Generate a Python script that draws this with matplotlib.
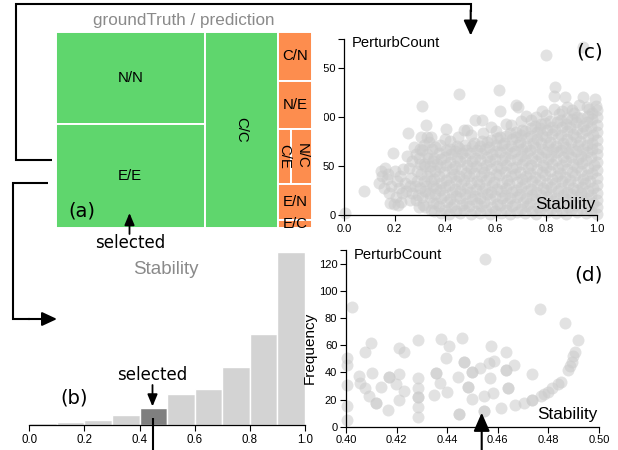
import matplotlib
matplotlib.use("Agg")
import matplotlib.pyplot as plt
from matplotlib.patches import Rectangle

plt.rcParams['font.family'] = ['Liberation Sans', 'DejaVu Sans']

W, H = 618, 450

# ---------------- data ----------------
# (a) treemap: groundTruth / prediction
tm_labels = ['N/N', 'E/E', 'C/C', 'C/N', 'N/E', 'C/E', 'N/C', 'E/N', 'E/C']
tm_values = [1374, 1537, 1435, 168, 164, 74, 114, 126, 25]
tm_correct = [True, True, True, False, False, False, False, False, False]

# (b) histogram of Stability
hist_edges = [0.0, 0.1, 0.2, 0.3, 0.4, 0.5, 0.6, 0.7, 0.8, 0.9, 1.0]
hist_counts = [12, 18, 30, 62, 100, 184, 218, 346, 548, 1036]
hist_selected_bin = 4
hist_ticks = [0.0, 0.2, 0.4, 0.6, 0.8, 1.0]

# (c) scatter Stability vs PerturbCount (all instances)
c_stability = [
    0.356, 0.363, 0.358, 0.365, 0.354, 0.361, 0.366, 0.357,
    0.382, 0.375, 0.384, 0.379, 0.383, 0.374, 0.380, 0.385, 0.377,
    0.399, 0.406, 0.397, 0.400, 0.404, 0.395, 0.402, 0.398, 0.405,
    0.416, 0.423, 0.418, 0.425, 0.414, 0.421, 0.426, 0.417, 0.422, 0.419,
    0.442, 0.435, 0.444, 0.439, 0.443, 0.434, 0.440, 0.445, 0.437, 0.446,
    0.459, 0.466, 0.457, 0.460, 0.464, 0.455, 0.462, 0.458, 0.465, 0.454,
    0.476, 0.483, 0.478, 0.485, 0.474, 0.481, 0.486, 0.477, 0.482, 0.479,
    0.502, 0.495, 0.504, 0.499, 0.503, 0.494, 0.500, 0.505, 0.497, 0.506,
    0.519, 0.526, 0.517, 0.520, 0.524, 0.515, 0.522, 0.518, 0.525, 0.514,
    0.536, 0.543, 0.538, 0.545, 0.534, 0.541, 0.546, 0.537, 0.542, 0.539, 0.544,
    0.562, 0.555, 0.564, 0.559, 0.563, 0.554, 0.560, 0.565, 0.557, 0.566,
    0.579, 0.586, 0.577, 0.580, 0.584, 0.575, 0.582, 0.578, 0.585, 0.574, 0.581,
    0.596, 0.603, 0.598, 0.605, 0.594, 0.601, 0.606, 0.597, 0.602, 0.599, 0.604,
    0.622, 0.615, 0.624, 0.619, 0.623, 0.614, 0.620, 0.625, 0.617, 0.626, 0.618,
    0.639, 0.646, 0.637, 0.640, 0.644, 0.635, 0.642, 0.638, 0.645, 0.634, 0.641,
    0.656, 0.663, 0.658, 0.665, 0.654, 0.661, 0.666, 0.657, 0.662, 0.659, 0.664, 0.655,
    0.682, 0.675, 0.684, 0.679, 0.683, 0.674, 0.680, 0.685, 0.677, 0.686, 0.678, 0.681,
    0.699, 0.706, 0.697, 0.700, 0.704, 0.695, 0.702, 0.698, 0.705, 0.694, 0.701, 0.703,
    0.716, 0.723, 0.718, 0.725, 0.714, 0.721, 0.726, 0.717, 0.722, 0.719, 0.724, 0.715,
    0.742, 0.735, 0.744, 0.739, 0.743, 0.734, 0.740, 0.745, 0.737, 0.746, 0.738, 0.741,
    0.759, 0.766, 0.757, 0.760, 0.764, 0.755, 0.762, 0.758, 0.765, 0.754, 0.761, 0.763, 0.756,
    0.776, 0.783, 0.778, 0.785, 0.774, 0.781, 0.786, 0.777, 0.782, 0.779, 0.784, 0.775, 0.780,
    0.802, 0.795, 0.804, 0.799, 0.803, 0.794, 0.800, 0.805, 0.797, 0.806, 0.798, 0.801, 0.796,
    0.819, 0.826, 0.817, 0.820, 0.824, 0.815, 0.822, 0.818, 0.825, 0.814, 0.821, 0.823, 0.816,
    0.836, 0.843, 0.838, 0.845, 0.834, 0.841, 0.846, 0.837, 0.842, 0.839, 0.844, 0.835, 0.840,
    0.862, 0.855, 0.864, 0.859, 0.863, 0.854, 0.860, 0.865, 0.857, 0.866, 0.858, 0.861, 0.856,
    0.879, 0.886, 0.877, 0.880, 0.884, 0.875, 0.882, 0.878, 0.885, 0.874, 0.881, 0.883, 0.876, 0.880,
    0.896, 0.903, 0.898, 0.905, 0.894, 0.901, 0.906, 0.897, 0.902, 0.899, 0.904, 0.895, 0.900,
    0.922, 0.915, 0.924, 0.919, 0.923, 0.914, 0.920, 0.925, 0.917, 0.926, 0.918, 0.921, 0.916, 0.922,
    0.939, 0.946, 0.937, 0.940, 0.944, 0.935, 0.942, 0.938, 0.945, 0.934, 0.941, 0.943, 0.936,
    0.956, 0.963, 0.958, 0.965, 0.954, 0.961, 0.966, 0.957, 0.962, 0.959, 0.964, 0.955, 0.960, 0.963,
    0.976, 0.983, 0.978, 0.985, 0.974, 0.981, 0.988, 0.977, 0.982, 0.979, 0.984, 0.975, 0.980,
    1.0, 1.0, 1.0, 1.0, 1.0, 1.0, 1.0, 1.0, 1.0, 1.0, 1.0, 1.0, 1.0, 1.0,
]
c_perturb = [
    4, 12, 21, 28, 37, 45, 52, 58,
    2, 9, 17, 26, 33, 40, 49, 57, 63,
    5, 13, 20, 29, 36, 44, 51, 59, 66,
    1, 8, 16, 24, 31, 39, 47, 54, 62, 68,
    4, 11, 19, 27, 35, 42, 50, 58, 65, 71,
    2, 10, 17, 25, 32, 40, 47, 55, 63, 69,
    5, 12, 21, 28, 36, 43, 51, 58, 66, 72,
    1, 9, 16, 24, 33, 40, 48, 55, 63, 71,
    4, 12, 19, 27, 35, 43, 50, 58, 66, 74,
    2, 9, 17, 25, 32, 40, 48, 56, 63, 71, 76,
    5, 13, 21, 28, 36, 44, 51, 59, 67, 75,
    1, 8, 16, 24, 31, 39, 47, 55, 62, 70, 77,
    4, 11, 19, 27, 34, 42, 50, 57, 65, 72, 79,
    2, 10, 17, 25, 33, 41, 48, 56, 64, 72, 80,
    5, 12, 20, 28, 36, 44, 51, 59, 67, 74, 81,
    1, 9, 17, 24, 32, 40, 48, 56, 63, 71, 78, 84,
    3, 11, 18, 26, 34, 42, 49, 57, 65, 72, 80, 85,
    6, 13, 21, 29, 37, 44, 52, 60, 67, 75, 82, 87,
    2, 9, 17, 25, 33, 40, 48, 56, 63, 71, 79, 86,
    4, 12, 20, 27, 35, 43, 51, 58, 66, 74, 81, 89,
    1, 8, 16, 24, 31, 39, 47, 55, 62, 70, 78, 85, 91,
    5, 13, 20, 28, 36, 44, 51, 59, 67, 74, 82, 89, 93,
    3, 10, 18, 26, 33, 41, 49, 57, 64, 72, 80, 87, 94,
    6, 14, 21, 29, 37, 45, 52, 60, 68, 75, 83, 90, 96,
    2, 9, 17, 25, 33, 40, 48, 56, 64, 71, 79, 87, 95,
    4, 12, 20, 28, 35, 43, 51, 59, 66, 74, 82, 90, 97,
    1, 8, 16, 24, 32, 39, 47, 55, 63, 70, 78, 86, 93, 99,
    5, 13, 21, 28, 36, 44, 52, 59, 67, 75, 83, 90, 98,
    3, 10, 18, 26, 34, 41, 49, 57, 65, 72, 80, 88, 95, 100,
    6, 14, 22, 29, 37, 45, 53, 60, 68, 76, 84, 91, 99,
    2, 9, 17, 25, 33, 41, 48, 56, 64, 72, 79, 87, 95, 101,
    4, 12, 20, 28, 35, 43, 51, 59, 67, 74, 82, 90, 98,
    1, 8, 15, 23, 31, 38, 46, 54, 62, 69, 77, 85, 92, 100,
]
c_sparse = [
    (0.003, 2), (0.079, 25), (0.137, 33), (0.145, 45), (0.152, 40), (0.158, 28),
    (0.163, 48), (0.168, 37), (0.172, 42), (0.178, 22), (0.183, 12), (0.186, 30),
    (0.192, 63), (0.196, 11), (0.200, 45), (0.205, 18), (0.210, 35), (0.214, 10),
    (0.218, 28), (0.222, 40), (0.226, 13), (0.230, 22), (0.235, 47), (0.240, 33),
    (0.245, 25), (0.250, 60), (0.254, 84), (0.258, 48), (0.262, 15), (0.266, 38),
    (0.270, 55), (0.275, 70), (0.280, 30), (0.284, 62), (0.288, 45), (0.292, 20),
    (0.296, 8), (0.300, 52), (0.304, 80), (0.307, 111), (0.310, 66), (0.314, 10),
    (0.318, 35), (0.322, 25), (0.326, 92), (0.329, 80), (0.331, 58), (0.334, 75),
    (0.338, 45), (0.342, 5), (0.346, 68), (0.350, 30), (0.340, 18), (0.330, 40),
    (0.320, 50), (0.285, 15), (0.290, 35), (0.295, 58), (0.300, 28), (0.305, 42),
    (0.310, 18), (0.315, 52), (0.320, 8), (0.325, 30), (0.330, 62), (0.335, 22),
    (0.340, 50), (0.345, 35), (0.350, 12), (0.350, 55), (0.345, 80), (0.300, 68),
    (0.270, 22), (0.260, 30), (0.315, 72),
    (0.456, 124), (0.402, 88), (0.474, 87), (0.944, 172), (0.798, 164),
    (0.614, 128), (0.834, 131), (0.830, 122), (0.874, 121), (0.946, 121), (0.992, 119),
    (0.996, 111), (0.678, 113), (0.686, 110), (0.617, 106), (0.830, 108), (0.781, 106),
    (0.902, 107), (1.0, 107), (0.544, 97), (0.518, 97), (0.850, 103), (0.485, 87),
    (0.580, 90), (0.640, 93), (0.700, 96), (0.720, 101), (0.760, 100), (0.880, 110),
    (0.930, 112), (0.970, 108), (0.910, 104), (0.600, 86), (0.450, 80), (0.420, 76),
    (0.380, 72), (0.500, 82), (0.550, 84), (0.660, 92), (0.740, 97), (0.800, 102),
    (0.980, 104), (0.960, 110), (0.860, 106), (0.400, 78), (0.360, 70),
]
c_xticks = [0.0, 0.2, 0.4, 0.6, 0.8, 1.0]
c_yticks = [0, 50, 100, 150]

# (d) scatter of the selected bin (0.4 - 0.5)
d_points = [
    (0.4551, 123.7), (0.4024, 87.7), (0.4766, 86.4), (0.4867, 76.4), (0.4918, 63.7),
    (0.4906, 55.0), (0.4898, 52.0), (0.4892, 47.8), (0.4885, 44.6), (0.4878, 41.6),
    (0.4849, 33.0), (0.4839, 31.3), (0.4815, 28.2), (0.4799, 25.7), (0.4783, 24.0),
    (0.4770, 22.8), (0.4736, 19.6), (0.4736, 19.6), (0.4703, 17.1), (0.4734, 38.7),
    (0.4666, 45.6), (0.4631, 54.6), (0.4634, 41.6), (0.4634, 41.6), (0.4641, 28.2),
    (0.4641, 28.2), (0.4667, 15.9), (0.4614, 13.5), (0.4575, 59.5), (0.4564, 46.5),
    (0.4585, 48.5), (0.4571, 35.5), (0.4581, 24.5), (0.4546, 22.8), (0.4546, 11.5),
    (0.4546, 11.5), (0.4528, 42.9), (0.4499, 40.4), (0.4499, 40.4), (0.4499, 20.1),
    (0.4482, 29.4), (0.4482, 29.4), (0.4465, 47.5), (0.4465, 47.5), (0.4460, 65.6),
    (0.4443, 36.7), (0.4445, 9.3), (0.4445, 9.3), (0.4406, 59.5), (0.4396, 50.7),
    (0.4399, 25.2), (0.4377, 64.4), (0.4373, 31.8), (0.4357, 39.2), (0.4357, 39.2),
    (0.4347, 23.3), (0.4285, 63.7), (0.4284, 35.5), (0.4284, 28.2), (0.4284, 22.0),
    (0.4284, 22.0), (0.4284, 14.2), (0.4284, 6.9), (0.4229, 54.6), (0.4211, 57.6),
    (0.4211, 38.5), (0.4196, 31.3), (0.4230, 26.2), (0.4211, 19.6), (0.4168, 36.7),
    (0.4168, 36.7), (0.4166, 12.2), (0.4137, 29.4), (0.4119, 17.6), (0.4119, 17.6),
    (0.4099, 61.7), (0.4103, 39.2), (0.4075, 54.6), (0.4089, 22.8), (0.4074, 28.2),
    (0.4057, 32.3), (0.4053, 37.2), (0.4003, 50.7), (0.4003, 45.3), (0.4003, 30.6),
    (0.4003, 15.4), (0.4003, 4.9),
]
d_xticks = [0.40, 0.42, 0.44, 0.46, 0.48, 0.50]
d_yticks = [0, 20, 40, 60, 80, 100, 120]

assert len(c_stability) == len(c_perturb)

# ---------------- figure ----------------
fig = plt.figure(figsize=(W / 100, H / 100), dpi=100)


def px_axes(x0, y0, x1, y1, **kw):
    """Create axes from pixel box (top-left origin)."""
    return fig.add_axes([x0 / W, 1 - y1 / H, (x1 - x0) / W, (y1 - y0) / H], **kw)


GREEN = '#5fd66d'
ORANGE = '#fd8d4e'
POINT = '#cbcbcb'
PT_SIZE = 74
PT_ALPHA = 0.55
TICKFS = 8


def d3_style(ax, show_left=True):
    ax.spines['top'].set_visible(False)
    ax.spines['right'].set_visible(False)
    ax.spines['left'].set_visible(show_left)
    for s in ('left', 'bottom'):
        ax.spines[s].set_linewidth(0.9)
        ax.spines[s].set_zorder(5)
    ax.tick_params(which='both', direction='out', length=4.3, width=0.8,
                   labelsize=TICKFS, pad=2)
    ax.patch.set_alpha(0)
    ax.set_axisbelow(False)


# ---- (a) treemap ----
tm_structure = ('h', [('h', [('v', [0, 1]), 2]), ('v', [3, 4, ('h', [5, 6]), 7, 8])])


def node_value(node):
    if isinstance(node, int):
        return tm_values[node]
    return sum(node_value(c) for c in node[1])


def layout(node, x0, y0, x1, y1, out):
    if isinstance(node, int):
        out[node] = (x0, y0, x1, y1)
        return
    direction, children = node
    total = node_value(node)
    pos = x0 if direction == 'h' else y0
    for c in children:
        frac = node_value(c) / total
        if direction == 'h':
            w = (x1 - x0) * frac
            layout(c, pos, y0, pos + w, y1, out)
        else:
            w = (y1 - y0) * frac
            layout(c, x0, pos, x1, pos + w, out)
        pos += w


rects = {}
layout(tm_structure, 0, 0, 1, 1, rects)

ax_tm = px_axes(56, 31.7, 312, 227.7)
ax_tm.set_xlim(0, 1)
ax_tm.set_ylim(1, 0)
ax_tm.axis('off')
tm_rot = {2: -90, 5: -90, 6: -90}
for i, lab in enumerate(tm_labels):
    x0, y0, x1, y1 = rects[i]
    ax_tm.add_patch(Rectangle((x0, y0), x1 - x0, y1 - y0,
                              facecolor=GREEN if tm_correct[i] else ORANGE,
                              edgecolor='white', linewidth=1.4))
    ax_tm.text((x0 + x1) / 2, (y0 + y1) / 2, lab, ha='center', va='center',
               fontsize=10.8, rotation=tm_rot.get(i, 0), color='black',
               clip_on=False)

# ---- (b) histogram ----
ax_h = px_axes(29.3, 245, 305, 425)
d3_style(ax_h, show_left=False)
for i, cnt in enumerate(hist_counts):
    ax_h.bar(hist_edges[i], cnt, width=hist_edges[i + 1] - hist_edges[i],
             align='edge',
             color='#7f7f7f' if i == hist_selected_bin else '#d3d3d3',
             edgecolor='white', linewidth=1.0, zorder=1)
ax_h.set_xlim(0, 1)
ax_h.set_ylim(0, max(hist_counts) * 180 / 172.7)
ax_h.set_yticks([])
ax_h.set_xticks(hist_ticks)
ax_h.set_xticklabels(['%.1f' % t for t in hist_ticks])
ax_h.tick_params(labelsize=8.3)

# ---- (c) scatter ----
ax_c = px_axes(344, 39, 597, 215)
d3_style(ax_c)
ax_c.scatter(c_stability, c_perturb, s=PT_SIZE, color=POINT, alpha=PT_ALPHA,
             linewidths=0, clip_on=False, zorder=1)
ax_c.scatter([p[0] for p in c_sparse], [p[1] for p in c_sparse], s=PT_SIZE,
             color=POINT, alpha=PT_ALPHA, linewidths=0, clip_on=False, zorder=1)
ax_c.set_xlim(0, 1)
ax_c.set_ylim(0, 180)
ax_c.set_xticks(c_xticks)
ax_c.set_xticklabels(['%.1f' % t for t in c_xticks])
ax_c.set_yticks(c_yticks)
ax_c.set_yticklabels([str(t) for t in c_yticks])
ax_c.set_yticks([180], minor=True)

# ---- (d) scatter ----
ax_d = px_axes(346, 250, 599, 426.7)
d3_style(ax_d)
ax_d.scatter([p[0] for p in d_points], [p[1] for p in d_points], s=PT_SIZE,
             color=POINT, alpha=PT_ALPHA, linewidths=0, clip_on=False, zorder=1)
ax_d.set_xlim(0.40, 0.50)
ax_d.set_ylim(0, 130)
ax_d.set_xticks(d_xticks)
ax_d.set_xticklabels(['%.2f' % t for t in d_xticks])
ax_d.set_yticks(d_yticks)
ax_d.set_yticklabels([str(t) for t in d_yticks])
ax_d.set_yticks([130], minor=True)

# ---- overlay: annotations and connectors (pixel coordinates) ----
ov = fig.add_axes([0, 0, 1, 1], zorder=10)
ov.set_xlim(0, W)
ov.set_ylim(H, 0)
ov.axis('off')
ov.patch.set_alpha(0)

# white mask that hides the leading digits of the (c) y tick labels
ov.add_patch(Rectangle((313, 55), 10.5, 70, facecolor='white', edgecolor='none'))

LW = 1.5
ov.plot([52, 15.7, 15.7, 470.7, 470.7], [160, 160, 3.7, 3.7, 12],
        color='black', lw=LW, solid_joinstyle='miter', solid_capstyle='butt')
ov.annotate('', xy=(470.7, 35.5), xytext=(470.7, 10),
            arrowprops=dict(arrowstyle='-|>,head_length=0.75,head_width=0.35',
                            color='black', lw=LW, shrinkA=0, shrinkB=0,
                            mutation_scale=12))
ov.plot([48, 13.3, 13.3, 30], [183.3, 183.3, 319, 319],
        color='black', lw=LW, solid_joinstyle='miter', solid_capstyle='butt')
ov.annotate('', xy=(57, 319), xytext=(28, 319),
            arrowprops=dict(arrowstyle='-|>,head_length=0.75,head_width=0.35',
                            color='black', lw=LW, shrinkA=0, shrinkB=0,
                            mutation_scale=12))

small_arrow = dict(arrowstyle='-|>,head_length=0.6,head_width=0.25',
                   color='black', lw=1.3, shrinkA=0, shrinkB=0, mutation_scale=12)
ov.annotate('', xy=(129.5, 213), xytext=(129.5, 234), arrowprops=small_arrow)
ov.annotate('', xy=(152.5, 406.5), xytext=(152.5, 385), arrowprops=small_arrow)
ov.plot([153, 153], [418, 450], color='black', lw=LW, solid_capstyle='butt')
ov.annotate('', xy=(481.7, 412.7), xytext=(481.7, 451),
            arrowprops=dict(arrowstyle='-|>,head_length=0.8,head_width=0.35',
                            color='black', lw=LW, shrinkA=0, shrinkB=0,
                            mutation_scale=14))

DV = ['DejaVu Sans']
ov.text(184, 20, 'groundTruth / prediction', ha='center', va='center',
        fontsize=12.3, color='#8a8a8a')
ov.text(82, 211, '(a)', ha='center', va='center', fontsize=14, family=DV)
ov.text(130, 243, 'selected', ha='center', va='center', fontsize=12, family=DV)
ov.text(166, 270, 'Stability', ha='center', va='center', fontsize=13.5,
        color='#8a8a8a')
ov.text(152, 375, 'selected', ha='center', va='center', fontsize=12, family=DV)
ov.text(74, 398, '(b)', ha='center', va='center', fontsize=14, family=DV)
ov.text(310, 348, 'Frequency', ha='center', va='center', fontsize=11,
        rotation=90)

ov.text(352, 43, 'PerturbCount', ha='left', va='center', fontsize=10.6)
ov.text(590, 52, '(c)', ha='center', va='center', fontsize=14.5, family=DV)
ov.text(596, 204, 'Stability', ha='right', va='center', fontsize=12.3)

ov.text(354, 255, 'PerturbCount', ha='left', va='center', fontsize=10.6)
ov.text(588, 275, '(d)', ha='center', va='center', fontsize=14.5, family=DV)
ov.text(597.5, 415, 'Stability', ha='right', va='center', fontsize=12.3)

fig.savefig('out.png', dpi=100)
